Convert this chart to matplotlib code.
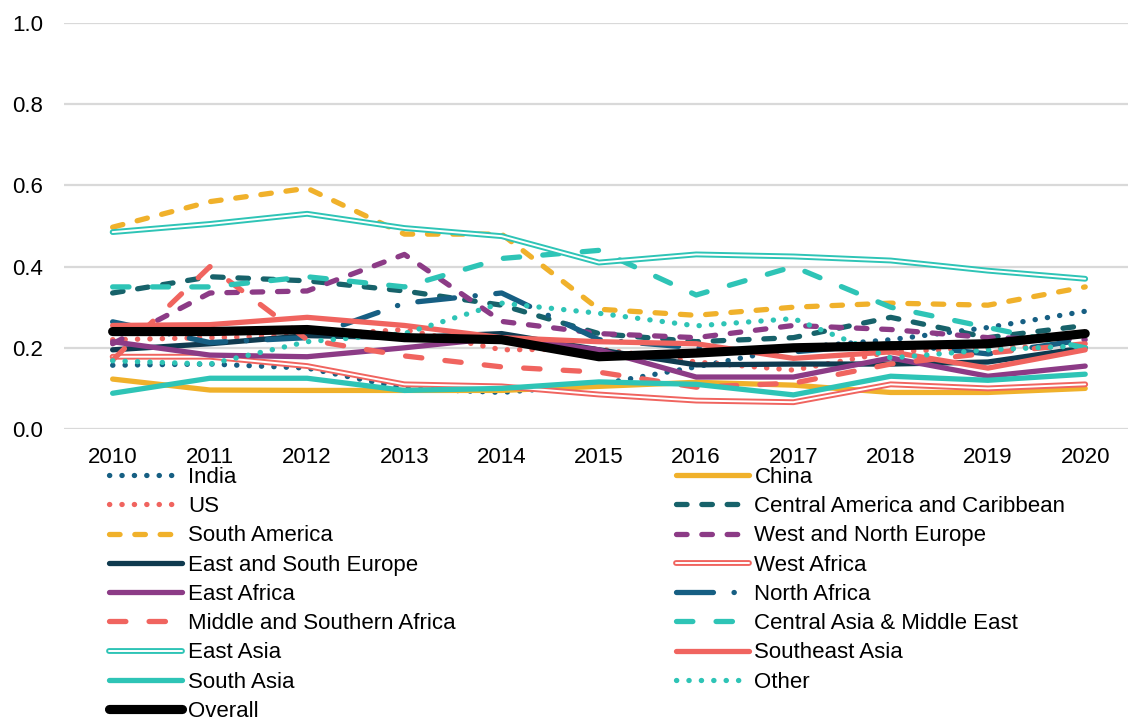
import matplotlib
matplotlib.use("Agg")
import matplotlib.pyplot as plt
import matplotlib.patheffects as pe

plt.rcParams['font.family'] = ['Liberation Sans', 'DejaVu Sans']

years = [2010, 2011, 2012, 2013, 2014, 2015, 2016, 2017, 2018, 2019, 2020]

india = [0.157, 0.16, 0.15, 0.10, 0.09, 0.11, 0.153, 0.20, 0.22, 0.25, 0.29]
china = [0.123, 0.096, 0.095, 0.095, 0.095, 0.105, 0.115, 0.108, 0.09, 0.09, 0.10]
us = [0.22, 0.225, 0.23, 0.245, 0.195, 0.197, 0.165, 0.145, 0.19, 0.20, 0.205]
central_america = [0.335, 0.375, 0.365, 0.34, 0.305, 0.235, 0.215, 0.225, 0.275, 0.225, 0.255]
south_america = [0.497, 0.56, 0.593, 0.48, 0.48, 0.295, 0.28, 0.30, 0.31, 0.305, 0.35]
west_north_europe = [0.21, 0.335, 0.34, 0.43, 0.265, 0.235, 0.225, 0.255, 0.245, 0.225, 0.22]
east_south_europe = [0.195, 0.21, 0.23, 0.225, 0.235, 0.195, 0.158, 0.16, 0.16, 0.165, 0.20]
west_africa = [0.178, 0.178, 0.155, 0.11, 0.105, 0.085, 0.07, 0.066, 0.11, 0.10, 0.11]
east_africa = [0.215, 0.182, 0.178, 0.20, 0.225, 0.195, 0.128, 0.128, 0.175, 0.13, 0.155]
north_africa = [0.264, 0.213, 0.225, 0.31, 0.335, 0.22, 0.20, 0.19, 0.21, 0.185, 0.22]
mid_south_africa = [0.17, 0.40, 0.22, 0.18, 0.153, 0.14, 0.103, 0.113, 0.16, 0.187, 0.21]
central_asia = [0.35, 0.35, 0.375, 0.35, 0.42, 0.44, 0.33, 0.40, 0.30, 0.25, 0.20]
east_asia = [0.485, 0.505, 0.53, 0.495, 0.475, 0.41, 0.43, 0.425, 0.415, 0.39, 0.37]
southeast_asia = [0.255, 0.257, 0.275, 0.255, 0.225, 0.215, 0.21, 0.174, 0.19, 0.15, 0.195]
south_asia = [0.088, 0.125, 0.125, 0.095, 0.10, 0.116, 0.11, 0.084, 0.13, 0.12, 0.135]
other = [0.168, 0.16, 0.215, 0.235, 0.31, 0.285, 0.254, 0.272, 0.175, 0.195, 0.205]
overall = [0.24, 0.24, 0.245, 0.225, 0.22, 0.178, 0.187, 0.20, 0.205, 0.21, 0.235]

BLUE = '#165f83'
GOLD = '#f0b12b'
CORAL = '#f0645f'
DTEAL = '#17626a'
PURPLE = '#8c3b86'
NAVY = '#0f3a4f'
TEAL = '#2ec4b6'

x = list(range(len(years)))

fig = plt.figure(figsize=(11.28, 7.21), dpi=100)
ax = fig.add_axes([64 / 1128, 1 - 429 / 721, 1 - 64 / 1128, (429 - 23) / 721])

lw = 3.8
dot = (0, (0.05, 2.3))
dash = (0, (2.0, 2.8))
longdash = (0, (3.1, 4.4))
handles = {}

def line(name, y, color, ls='-', width=lw, double=False):
    if double:
        h, = ax.plot(x, y, color='white', lw=1.4, label=name, solid_capstyle='round',
                     path_effects=[pe.Stroke(linewidth=4.2, foreground=color), pe.Normal()])
    else:
        h, = ax.plot(x, y, color=color, lw=width, linestyle=ls, label=name,
                     dash_capstyle='round', solid_capstyle='round')
    handles[name] = h

line('India', india, BLUE, dot)
line('China', china, GOLD)
line('US', us, CORAL, dot)
line('Central America and Caribbean', central_america, DTEAL, dash)
line('South America', south_america, GOLD, dash)
line('West and North Europe', west_north_europe, PURPLE, dash)
line('East and South Europe', east_south_europe, NAVY)
line('West Africa', west_africa, CORAL, double=True)
line('East Africa', east_africa, PURPLE)
line('North Africa', north_africa, BLUE, (0, (7, 3.9, 0.05, 3.9)))
line('Middle and Southern Africa', mid_south_africa, CORAL, longdash)
line('Central Asia & Middle East', central_asia, TEAL, longdash)
line('East Asia', east_asia, TEAL, double=True)
line('Southeast Asia', southeast_asia, CORAL)
line('South Asia', south_asia, TEAL)
line('Other', other, TEAL, dot)
line('Overall', overall, 'black', width=6.6)

ax.set_ylim(0, 1.0)
ax.set_xlim(-0.5, 10.44)
ax.set_yticks([0, 0.2, 0.4, 0.6, 0.8, 1.0])
ax.set_yticklabels(['0.0', '0.2', '0.4', '0.6', '0.8', '1.0'])
ax.set_xticks(x)
ax.set_xticklabels([str(v) for v in years])
ax.tick_params(length=0, labelsize=16, pad=13)
ax.tick_params(axis='y', pad=15)
ax.grid(axis='y', color='#d9d9d9', lw=1.6)
ax.set_axisbelow(True)
for s in ax.spines.values():
    s.set_visible(False)

col1 = ['India', 'US', 'South America', 'East and South Europe', 'East Africa',
        'Middle and Southern Africa', 'East Asia', 'South Asia', 'Overall']
col2 = ['China', 'Central America and Caribbean', 'West and North Europe', 'West Africa',
        'North Africa', 'Central Asia & Middle East', 'Southeast Asia', 'Other']
order = col1 + col2
fig.legend([handles[n] for n in order], order, loc='upper left',
           bbox_to_anchor=(109 / 1128, 1 - 467 / 721), ncol=2, frameon=False,
           fontsize=16, handlelength=3.3, handletextpad=0.25, labelspacing=0.37,
           columnspacing=9.9, borderpad=0, borderaxespad=0)

fig.savefig('out.png', dpi=100)
